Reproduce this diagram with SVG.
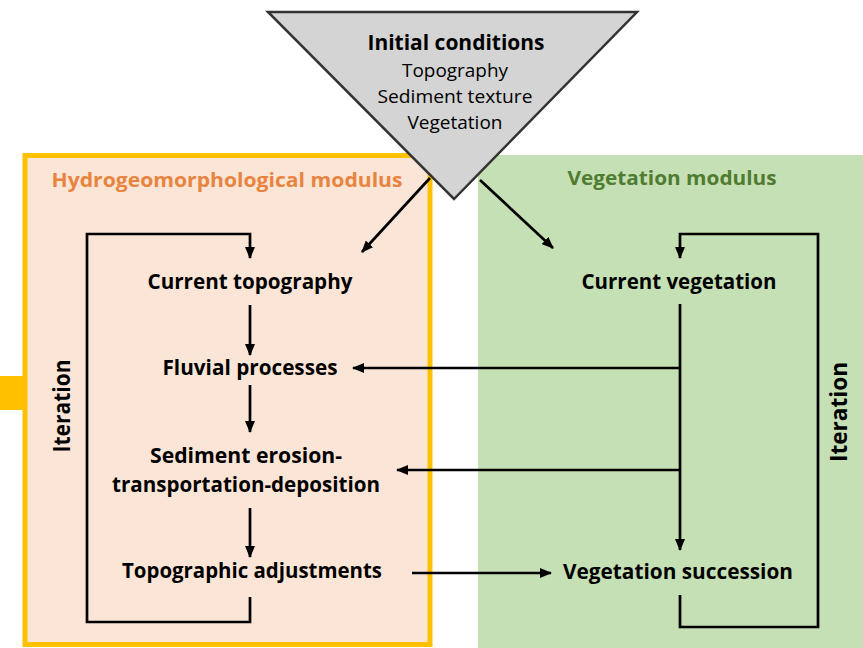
<svg xmlns="http://www.w3.org/2000/svg" width="863" height="648" viewBox="0 0 863 648">
<defs>
<marker id="ah" markerUnits="userSpaceOnUse" markerWidth="12" markerHeight="10" refX="11" refY="5" orient="auto">
<path d="M0,0 L12,5 L0,10 Z" fill="#000"/>
</marker>
<style>
.t{font-family:"Open Sans","Liberation Sans",Arial,sans-serif;font-weight:bold;font-size:20.5px;fill:#000;text-anchor:middle}
.s{font-family:"Open Sans","Liberation Sans",Arial,sans-serif;font-size:18px;fill:#000;text-anchor:middle}
.ln{fill:none;stroke:#000;stroke-width:2.7}
.ar{fill:none;stroke:#000;stroke-width:2.7;marker-end:url(#ah)}
</style>
</defs>
<rect width="863" height="648" fill="#fff"/>
<g id="hydro-module">
<rect x="0" y="376" width="24" height="34" fill="#FFC000"/>
<rect x="25" y="155.5" width="405" height="489" fill="#FBE5D6" stroke="#FFC000" stroke-width="5"/>
<text class="t" x="227" y="187" style="fill:#E8843F;font-size:20px" textLength="351" lengthAdjust="spacingAndGlyphs">Hydrogeomorphological modulus</text>
</g>
<g id="veg-module">
<rect x="478" y="155" width="385" height="493" fill="#C5E0B4"/>
<text class="t" x="672" y="185" style="fill:#4F7C30;font-size:20px" textLength="209" lengthAdjust="spacingAndGlyphs">Vegetation modulus</text>
</g>
<g id="connectors">
<polyline class="ar" points="250,597 250,622 87,622 87,234 250,234 250,258"/>
<line class="ar" x1="250" y1="305" x2="250" y2="355"/>
<line class="ar" x1="250" y1="385" x2="250" y2="432"/>
<line class="ar" x1="250" y1="508" x2="250" y2="557"/>
<polyline class="ar" points="680,595 680,627 818,627 818,234 680,234 680,258"/>
<line class="ar" x1="680" y1="304" x2="680" y2="550"/>
<line class="ar" x1="680" y1="368" x2="353" y2="368"/>
<line class="ar" x1="680" y1="470" x2="397" y2="470"/>
<line class="ar" x1="412" y1="573" x2="551" y2="573"/>
<line class="ar" x1="430" y1="178" x2="362" y2="252"/>
<line class="ar" x1="480" y1="180" x2="553" y2="248"/>
</g>
<g id="initial-conditions">
<polygon points="268,12 637,12 454,199" fill="#D4D4D4" stroke="#333" stroke-width="2.5" stroke-linejoin="miter"/>
<text class="t" x="456" y="50" style="font-size:21px" textLength="177" lengthAdjust="spacingAndGlyphs">Initial conditions</text>
<text class="s" x="455" y="77" textLength="106" lengthAdjust="spacingAndGlyphs">Topography</text>
<text class="s" x="455" y="103" textLength="155" lengthAdjust="spacingAndGlyphs">Sediment texture</text>
<text class="s" x="455" y="129" textLength="95" lengthAdjust="spacingAndGlyphs">Vegetation</text>
</g>
<g id="current-topography"><text class="t" x="250" y="289" textLength="205" lengthAdjust="spacingAndGlyphs">Current topography</text></g>
<g id="fluvial-processes"><text class="t" x="250" y="375" textLength="175" lengthAdjust="spacingAndGlyphs">Fluvial processes</text></g>
<g id="sediment"><text class="t" x="246" y="463" textLength="192" lengthAdjust="spacingAndGlyphs">Sediment erosion-</text>
<text class="t" x="246" y="492" textLength="268" lengthAdjust="spacingAndGlyphs">transportation-deposition</text></g>
<g id="topographic-adjustments"><text class="t" x="252" y="578" textLength="260" lengthAdjust="spacingAndGlyphs">Topographic adjustments</text></g>
<g id="current-vegetation"><text class="t" x="679" y="289" textLength="195" lengthAdjust="spacingAndGlyphs">Current vegetation</text></g>
<g id="vegetation-succession"><text class="t" x="678" y="579" textLength="230" lengthAdjust="spacingAndGlyphs">Vegetation succession</text></g>
<g id="iteration-left"><text class="t" transform="translate(70,406) rotate(-90)" x="0" y="0" textLength="93" lengthAdjust="spacingAndGlyphs" style="font-size:24px">Iteration</text></g>
<g id="iteration-right"><text class="t" transform="translate(847,412) rotate(-90)" x="0" y="0" textLength="100" lengthAdjust="spacingAndGlyphs" style="font-size:24px">Iteration</text></g>
</svg>
